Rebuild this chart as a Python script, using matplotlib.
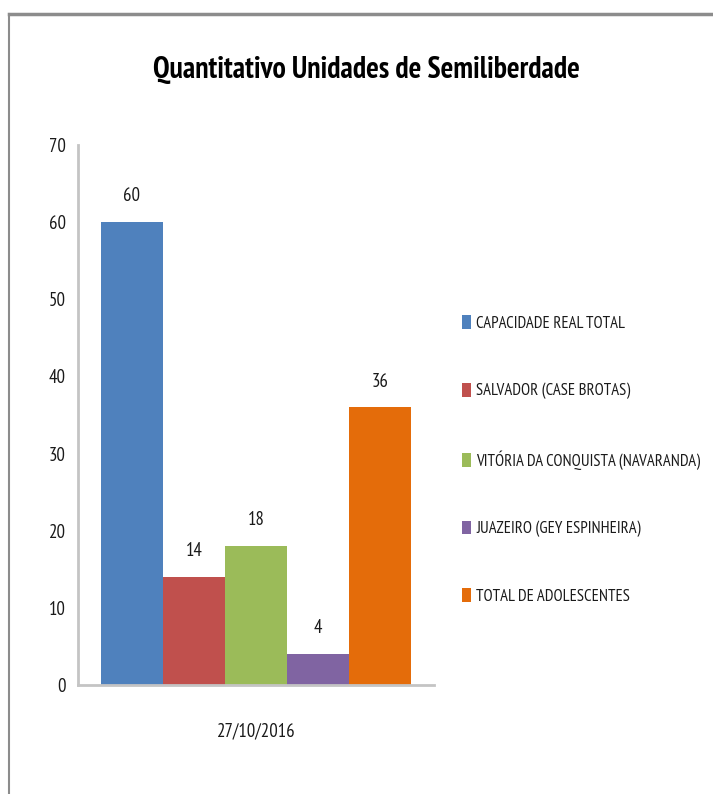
import matplotlib
matplotlib.use("Agg")
import matplotlib.pyplot as plt
from matplotlib.patches import Patch
from matplotlib.lines import Line2D

plt.rcParams["font.family"] = ["PT Sans Narrow", "DejaVu Sans"]

title = "Quantitativo Unidades de Semiliberdade"
category = "27/10/2016"
series = ["CAPACIDADE REAL TOTAL", "SALVADOR (CASE BROTAS)",
          "VITÓRIA DA CONQUISTA (NAVARANDA)", "JUAZEIRO (GEY ESPINHEIRA)",
          "TOTAL DE ADOLESCENTES"]
values = [60, 14, 18, 4, 36]
colors = ["#4F81BD", "#C0504D", "#9BBB59", "#8064A2", "#E46C0A"]
yticks = [0, 10, 20, 30, 40, 50, 60, 70]

fig = plt.figure(figsize=(7.13, 7.94), dpi=100)
ax = fig.add_axes([78/713, 1-685/794, (434-78)/713, (685-145)/794])

n = len(values)
offsets = [i - (n-1)/2 for i in range(n)]
ax.bar(offsets, values, width=1.0, color=colors, label=series)
for x, v in zip(offsets, values):
    ax.annotate(str(v), (x, v), xytext=(0, 12), textcoords="offset points",
                ha="center", va="bottom", fontsize=13.5, color="#1a1a1a")

ax.set_xlim(-2.87, 2.87)
ax.set_ylim(0, 70)
ax.set_yticks(yticks)
ax.set_xticks([0])
ax.set_xticklabels([category])
ax.tick_params(axis="both", length=0, labelsize=13.5, colors="#1a1a1a")
ax.tick_params(axis="y", pad=9)
ax.tick_params(axis="x", pad=27)
for s in ["top", "right"]:
    ax.spines[s].set_visible(False)
for s in ["left", "bottom"]:
    ax.spines[s].set_color("#c4c4c4")
    ax.spines[s].set_linewidth(2)

fig.text(366/713, 1-70/794, title, ha="center", va="center", fontsize=21.5,
         fontweight="bold", color="black")

handles = [Patch(facecolor=c, edgecolor="none") for c in colors]
fig.legend(handles, series, loc="center left", bbox_to_anchor=(462/713, 1-460/794),
           frameon=False, fontsize=12, handlelength=0.55, handleheight=0.9,
           handletextpad=0.3, labelspacing=3.05, borderaxespad=0, borderpad=0,
           labelcolor="#1a1a1a")

# outer frame lines (top and left)
fig.add_artist(Line2D([9/713, 1], [1-14/794, 1-14/794], transform=fig.transFigure,
                      color="#8c8c8c", lw=2.5))
fig.add_artist(Line2D([9/713, 9/713], [0, 1-14/794], transform=fig.transFigure,
                      color="#8c8c8c", lw=1.5))

fig.savefig("out.png", dpi=100)
